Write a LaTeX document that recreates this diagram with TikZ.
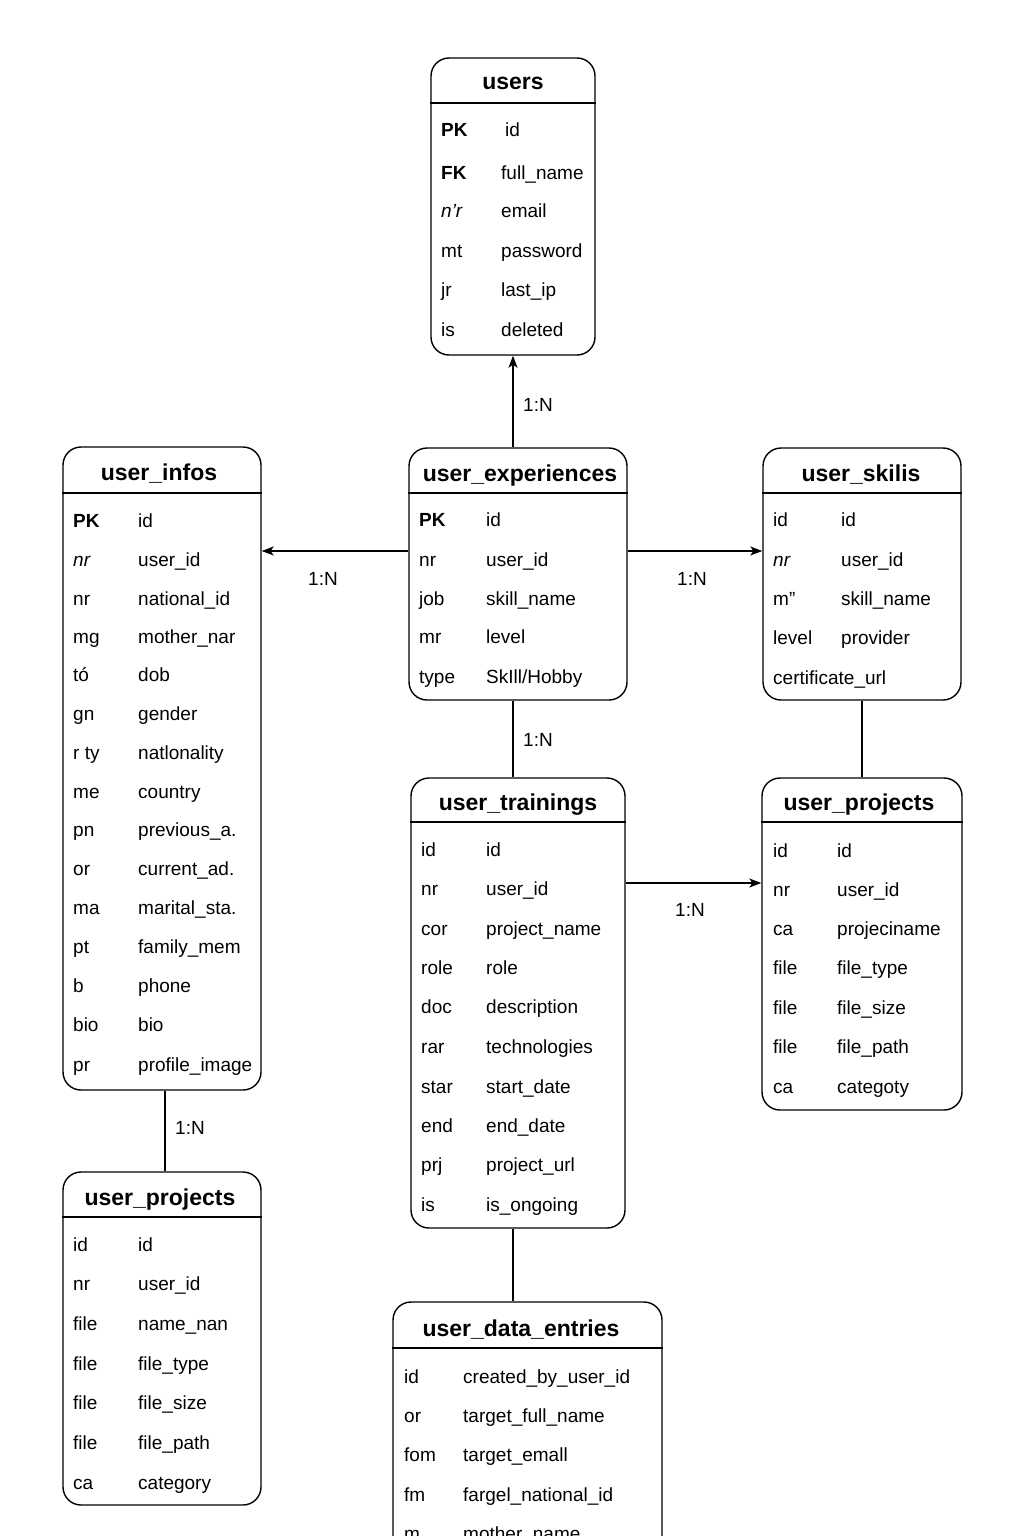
\documentclass[tikz,border=0pt]{standalone}
\usepackage{fontspec}
\setmainfont{Liberation Sans}
\usetikzlibrary{arrows.meta}
\newcommand\fieldfont{\fontsize{19}{22}\selectfont}
\newcommand\titlefont{\fontsize{23}{26}\selectfont\bfseries}
\newcommand\erow[6]{%
  \node[fld] (#1k) at (#2,#4) {#5};
  \node[fld] (#1f) at (#3,#4) {#6};}
\begin{document}
\begin{tikzpicture}[x=1pt,y=-1pt,
  tbox/.style={draw, line width=1.4pt, rounded corners=18pt, inner sep=0pt, fill=white},
  hline/.style={line width=1.2pt},
  ttl/.style={font=\titlefont, inner sep=0pt, text height=21pt, text depth=5pt},
  fld/.style={font=\fieldfont, anchor=west, inner sep=0pt, text height=18pt, text depth=4pt},
  lbl/.style={font=\fieldfont, inner sep=0pt, text height=18pt, text depth=4pt},
  conn/.style={line width=1.3pt},
  arr/.style={conn, -{Stealth[length=12pt, width=9pt, inset=3pt]}}]
\useasboundingbox (0,0) rectangle (1024,1536);
\clip (0,0) rectangle (1024,1536);
\fill[white] (0,0) rectangle (1024,1536);

% ---------- users
\node[tbox, minimum width=164pt, minimum height=297pt] (users) at (513,206.5) {};
\draw[hline] (users.west |- 0,103) -- (users.east |- 0,103);
\node[ttl] (usersT) at (513,82) {users};
\erow{ua}{441}{501}{130}{\textbf{PK}}{\hspace{4pt}id}
\erow{ub}{441}{501}{172}{\textbf{FK}}{full\_name}
\erow{uc}{441}{501}{210}{\itshape n’r}{email}
\erow{ud}{441}{501}{250}{mt}{password}
\erow{ue}{441}{501}{289}{jr}{last\_ip}
\erow{uf}{441}{501}{329}{is}{deleted}

% ---------- user_infos
\node[tbox, minimum width=198pt, minimum height=643pt] (infos) at (162,768.5) {};
\draw[hline] (infos.west |- 0,493) -- (infos.east |- 0,493);
\node[ttl] (infosT) at (159,472) {user\_infos};
\erow{ia}{73}{138}{520}{\textbf{PK}}{id}
\erow{ib}{73}{138}{559}{\itshape nr}{user\_id}
\erow{ic}{73}{138}{598}{nr}{national\_id}
\erow{id}{73}{138}{636}{mg}{mother\_nar}
\erow{ie}{73}{138}{674}{tó}{dob}
\erow{if}{73}{138}{713}{gn}{gender}
\erow{ig}{73}{138}{752}{r ty}{natlonality}
\erow{ih}{73}{138}{791}{me}{country}
\erow{ii}{73}{138}{829}{pn}{previous\_a.}
\erow{ij}{73}{138}{868}{or}{current\_ad.}
\erow{ik}{73}{138}{907}{ma}{marital\_sta.}
\erow{il}{73}{138}{946}{pt}{family\_mem}
\erow{im}{73}{138}{985}{b}{phone}
\erow{in}{73}{138}{1024}{bio}{bio}
\erow{io}{73}{138}{1064}{pr}{profile\_image}

% ---------- user_experiences
\node[tbox, minimum width=218pt, minimum height=252pt] (exp) at (518,574) {};
\draw[hline] (exp.west |- 0,493) -- (exp.east |- 0,493);
\node[ttl] (expT) at (520,473) {user\_experiences};
\erow{ea}{419}{486}{519}{\textbf{PK}}{id}
\erow{eb}{419}{486}{559}{nr}{user\_id}
\erow{ec}{419}{486}{598}{job}{skill\_name}
\erow{ed}{419}{486}{636}{mr}{level}
\erow{ee}{419}{486}{676}{type}{SkIll/Hobby}

% ---------- user_skilis
\node[tbox, minimum width=198pt, minimum height=252pt] (skills) at (862,574) {};
\draw[hline] (skills.west |- 0,493) -- (skills.east |- 0,493);
\node[ttl] (skillsT) at (861,473) {user\_skilis};
\erow{sa}{773}{841}{519}{id}{id}
\erow{sb}{773}{841}{559}{\itshape nr}{user\_id}
\erow{sc}{773}{841}{598}{m”}{skill\_name}
\erow{sd}{773}{841}{637}{level}{provider}
\node[fld] (se) at (773,677) {certificate\_url};

% ---------- user_trainings
\node[tbox, minimum width=214pt, minimum height=450pt] (train) at (518,1003) {};
\draw[hline] (train.west |- 0,822) -- (train.east |- 0,822);
\node[ttl] (trainT) at (518,802) {user\_trainings};
\erow{ta}{421}{486}{849}{id}{id}
\erow{tb}{421}{486}{888}{nr}{user\_id}
\erow{tc}{421}{486}{928}{cor}{project\_name}
\erow{td}{421}{486}{967}{role}{role}
\erow{te}{421}{486}{1006}{doc}{description}
\erow{tf}{421}{486}{1046}{rar}{technologies}
\erow{tg}{421}{486}{1086}{star}{start\_date}
\erow{th}{421}{486}{1125}{end}{end\_date}
\erow{ti}{421}{486}{1164}{prj}{project\_url}
\erow{tj}{421}{486}{1204}{is}{is\_ongoing}

% ---------- user_projects (right)
\node[tbox, minimum width=200pt, minimum height=332pt] (projR) at (862,944) {};
\draw[hline] (projR.west |- 0,822) -- (projR.east |- 0,822);
\node[ttl] (projRT) at (859,802) {user\_projects};
\erow{pa}{773}{837}{850}{id}{id}
\erow{pb}{773}{837}{889}{nr}{user\_id}
\erow{pc}{773}{837}{928}{ca}{projeciname}
\erow{pd}{773}{837}{967}{file}{file\_type}
\erow{pe}{773}{837}{1007}{file}{file\_size}
\erow{pf}{773}{837}{1046}{file}{file\_path}
\erow{pg}{773}{837}{1086}{ca}{categoty}

% ---------- user_projects (left)
\node[tbox, minimum width=198pt, minimum height=333pt] (projL) at (162,1338.5) {};
\draw[hline] (projL.west |- 0,1217) -- (projL.east |- 0,1217);
\node[ttl] (projLT) at (160,1197) {user\_projects};
\erow{la}{73}{138}{1244}{id}{id}
\erow{lb}{73}{138}{1283}{nr}{user\_id}
\erow{lc}{73}{138}{1323}{file}{name\_nan}
\erow{ld}{73}{138}{1363}{file}{file\_type}
\erow{le}{73}{138}{1402}{file}{file\_size}
\erow{lf}{73}{138}{1442}{file}{file\_path}
\erow{lg}{73}{138}{1482}{ca}{category}

% ---------- user_data_entries
\node[tbox, minimum width=269pt, minimum height=278pt] (entries) at (527.5,1441) {};
\draw[hline] (entries.west |- 0,1348) -- (entries.east |- 0,1348);
\node[ttl] (entriesT) at (521,1328) {user\_data\_entries};
\erow{da}{404}{463}{1376}{id}{created\_by\_user\_id}
\erow{db}{404}{463}{1415}{or}{target\_full\_name}
\erow{dc}{404}{463}{1454}{fom}{target\_emall}
\erow{dd}{404}{463}{1494}{fm}{fargel\_national\_id}
\erow{de}{404}{463}{1533}{m}{mother\_name}

% ---------- connectors
\draw[arr] (users.south |- exp.north) -- (users.south);
\node[lbl] (l1) at (538,404) {1:N};
\draw[arr] (exp.west |- 0,551) -- (infos.east |- 0,551);
\node[lbl] (l2) at (323,578) {1:N};
\draw[arr] (exp.east |- 0,551) -- (skills.west |- 0,551);
\node[lbl] (l3) at (692,578) {1:N};
\draw[conn] (users.south |- exp.south) -- (users.south |- train.north);
\node[lbl] (l4) at (538,739) {1:N};
\draw[conn] (skills.south) -- (skills.south |- projR.north);
\draw[arr] (train.east |- 0,883) -- (projR.west |- 0,883);
\node[lbl] (l5) at (690,909) {1:N};
\draw[conn] (165,0 |- infos.south) -- (165,0 |- projL.north);
\node[lbl] (l6) at (190,1127) {1:N};
\draw[conn] (users.south |- train.south) -- (users.south |- entries.north);
\end{tikzpicture}
\end{document}
